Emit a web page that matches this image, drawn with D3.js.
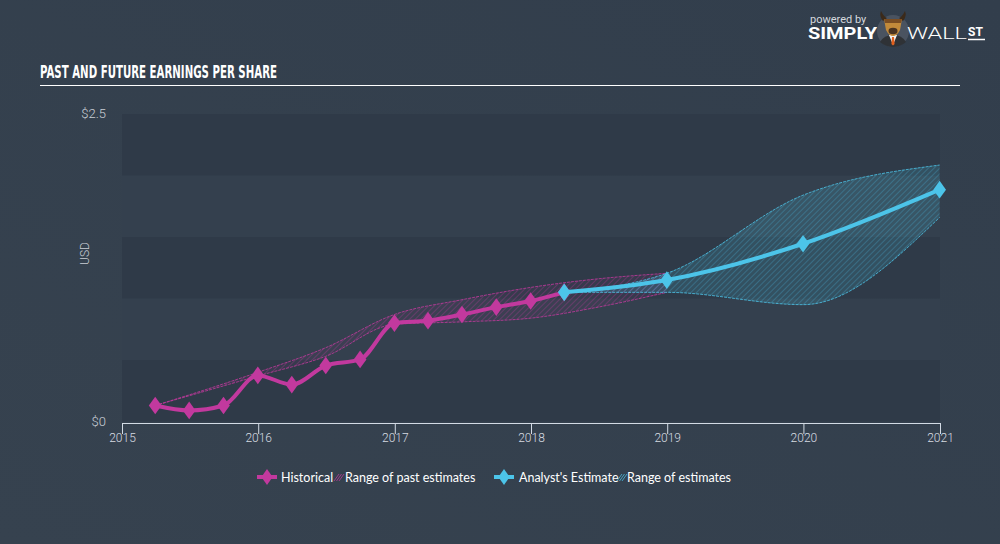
<!DOCTYPE html>
<html>
<head>
<meta charset="utf-8">
<script src="https://cdn.jsdelivr.net/npm/d3@7"></script>
<style>
  html, body { margin: 0; padding: 0; background: #34404e; }
  svg { display: block; }
</style>
</head>
<body>
<div id="chart"></div>
<script>
// ---- data ----
const histDates = ["2015-03-31", "2015-06-30", "2015-09-30", "2015-12-31", "2016-03-31", "2016-06-30",
    "2016-09-30", "2016-12-31", "2017-03-31", "2017-06-30", "2017-09-30", "2017-12-31", "2018-03-31"];
const histEps = [0.13, 0.09, 0.13, 0.375, 0.30, 0.455, 0.505, 0.80, 0.82, 0.87, 0.93, 0.98, 1.05];

const pastRangeDates = ["2015-03-31", "2015-12-31", "2016-06-30", "2016-12-31", "2017-06-30",
    "2017-12-31", "2018-06-30", "2018-12-31"];
const pastHigh = [0.13, 0.40, 0.60, 0.87, 0.99, 1.09, 1.16, 1.205];
const pastLow = [0.13, 0.37, 0.53, 0.79, 0.81, 0.84, 0.93, 1.05];

const estDates = ["2018-03-31", "2018-12-31", "2019-12-31", "2020-12-31"];
const estEps = [1.05, 1.15, 1.445, 1.885];
const estHigh = [1.05, 1.205, 1.84, 2.085];
const estLow = [1.05, 1.05, 0.95, 1.66];

const xTicks = ["2015", "2016", "2017", "2018", "2019", "2020", "2021"];
const yTicks = [0, 2.5];
const yBands = [0, 0.5, 1, 1.5, 2];

const pink = "#c2399e";
const cyan = "#4cc4e9";

const W = 1000, H = 544;
const margin = {top: 114, right: 60, bottom: 123, left: 122};
const width = W - margin.left - margin.right;
const height = H - margin.top - margin.bottom;

const parse = d3.timeParse("%Y-%m-%d");

const svg = d3.select("#chart").append("svg")
    .attr("width", W)
    .attr("height", H);

const defs = svg.append("defs");

// background gradient (very slight)
const bg = defs.append("linearGradient").attr("id", "bg")
    .attr("x1", "0").attr("y1", "1").attr("x2", "1").attr("y2", "0");
bg.append("stop").attr("offset", "0%").attr("stop-color", "#36424f");
bg.append("stop").attr("offset", "100%").attr("stop-color", "#323e4c");

svg.append("rect").attr("width", W).attr("height", H).attr("fill", "url(#bg)");

// hatch patterns
function hatch(id, bgFill, lineColor, lineOpacity) {
    const p = defs.append("pattern").attr("id", id)
        .attr("patternUnits", "userSpaceOnUse")
        .attr("width", 4).attr("height", 4)
        .attr("patternTransform", "rotate(45)");
    p.append("rect").attr("width", 4).attr("height", 4).attr("fill", bgFill);
    p.append("line").attr("x1", 0).attr("y1", 0).attr("x2", 0).attr("y2", 4)
        .attr("stroke", lineColor).attr("stroke-width", 1).attr("stroke-opacity", lineOpacity);
}
hatch("hatchPink", "rgba(194,57,158,0.06)", pink, 0.6);
hatch("hatchCyan", "rgba(76,196,233,0.16)", cyan, 0.5);

// title
svg.append("text")
    .attr("x", 40).attr("y", 78)
    .attr("fill", "#ffffff")
    .attr("font-family", "'Liberation Sans Narrow', 'DejaVu Sans Condensed', sans-serif")
    .attr("font-weight", "bold")
    .attr("font-size", 17)
    .attr("textLength", 237)
    .attr("lengthAdjust", "spacingAndGlyphs")
    .text("PAST AND FUTURE EARNINGS PER SHARE");
svg.append("line")
    .attr("x1", 40).attr("x2", 960).attr("y1", 85.5).attr("y2", 85.5)
    .attr("stroke", "#ffffff").attr("stroke-width", 1);

// logo
const logo = svg.append("g").attr("font-family", "Roboto, 'Open Sans', sans-serif");
logo.append("text").attr("x", 810).attr("y", 23).attr("fill", "#d5d9de")
    .attr("font-size", 11).text("powered by");
logo.append("text").attr("x", 808).attr("y", 39).attr("fill", "#ffffff")
    .attr("font-size", 16).attr("font-weight", "bold").attr("textLength", 69)
    .attr("lengthAdjust", "spacingAndGlyphs").text("SIMPLY");
logo.append("circle").attr("cx", 893).attr("cy", 31).attr("r", 16).attr("fill", "#4a5360");
// suit
logo.append("path").attr("d", "M880,42 Q884,35 893,35 Q902,35 906,42 Q900,47 893,47 Q886,47 880,42 Z")
    .attr("fill", "#2f3236");
logo.append("path").attr("d", "M889,35 L893,45 L897,35 Z").attr("fill", "#f2f2f2");
logo.append("path").attr("d", "M892,37 L894,37 L894.6,44 L893,45.5 L891.4,44 Z").attr("fill", "#e3611e");
// horns
logo.append("path").attr("d", "M883,21 Q879,16 881,11 Q884,17 887,18 Z").attr("fill", "#3b2a1a");
logo.append("path").attr("d", "M903,21 Q907,16 905,11 Q902,17 899,18 Z").attr("fill", "#3b2a1a");
// head
logo.append("path").attr("d", "M884,19 L902,19 L900,30 Q897,36 893,36 Q889,36 886,30 Z").attr("fill", "#c28a3a");
logo.append("path").attr("d", "M884,19 L902,19 L901,23 L885,23 Z").attr("fill", "#7a4d22");
logo.append("ellipse").attr("cx", 893).attr("cy", 31).attr("rx", 4.5).attr("ry", 3.2).attr("fill", "#4a3320");
logo.append("text").attr("x", 907).attr("y", 39).attr("fill", "#ffffff")
    .attr("font-size", 16).attr("font-weight", 300).attr("textLength", 60)
    .attr("lengthAdjust", "spacingAndGlyphs").text("WALL");
logo.append("text").attr("x", 968).attr("y", 36).attr("fill", "#ffffff")
    .attr("font-size", 12).attr("font-weight", "bold").text("ST");
logo.append("line").attr("x1", 968).attr("x2", 985).attr("y1", 39.5).attr("y2", 39.5)
    .attr("stroke", "#ffffff").attr("stroke-width", 1.5);

const g = svg.append("g").attr("transform", `translate(${margin.left},${margin.top})`);

const x = d3.scaleTime()
    .domain([parse("2015-01-01"), parse("2021-01-01")])
    .range([0, width]);
const y = d3.scaleLinear()
    .domain([0, 2.5])
    .range([height + 0.5, 0]);

// alternating bands
g.selectAll(".band").data(yBands).enter().append("rect")
    .attr("class", "band")
    .attr("x", 0)
    .attr("width", width)
    .attr("y", d => y(d + 0.5))
    .attr("height", d => y(d) - y(d + 0.5))
    .attr("fill", (d, i) => i % 2 === 0 ? "#2f3a48" : "#34404e");

// y labels
g.selectAll(".ylab").data(yTicks).enter().append("text")
    .attr("x", -16)
    .attr("y", d => y(d) + 4)
    .attr("text-anchor", "end")
    .attr("fill", "#c9ced5")
    .attr("font-family", "Roboto, sans-serif")
    .attr("font-weight", 300)
    .attr("font-size", 13)
    .text(d => "$" + d);

g.append("text")
    .attr("transform", `translate(-33,${height / 2 - 14}) rotate(-90)`)
    .attr("text-anchor", "middle")
    .attr("fill", "#c9ced5")
    .attr("font-family", "Roboto, sans-serif")
    .attr("font-weight", 300)
    .attr("font-size", 12)
    .text("USD");

// x axis
const xAxis = g.append("g")
    .attr("transform", `translate(0,${height + 2})`)
    .call(d3.axisBottom(x)
        .tickValues(xTicks.map(t => parse(t + "-01-01")))
        .tickFormat(d3.timeFormat("%Y"))
        .tickSize(11)
        .tickPadding(-1)
        .tickSizeOuter(0));
xAxis.select(".domain").attr("stroke", "#d3dbe5").attr("stroke-width", 1.2);
xAxis.selectAll(".tick line").attr("stroke", "#d3dbe5");
xAxis.selectAll(".tick text")
    .attr("fill", "#d7dce2")
    .attr("font-family", "Roboto, sans-serif")
    .attr("font-weight", 300)
    .attr("font-size", 12);

// ranges
const pastRange = pastRangeDates.map((d, i) => ({date: parse(d), hi: pastHigh[i], lo: pastLow[i]}));
const estRange = estDates.map((d, i) => ({date: parse(d), hi: estHigh[i], lo: estLow[i]}));

const area = d3.area()
    .x(d => x(d.date))
    .y0(d => y(d.lo))
    .y1(d => y(d.hi))
    .curve(d3.curveMonotoneX);
const hiLine = d3.line().x(d => x(d.date)).y(d => y(d.hi)).curve(d3.curveMonotoneX);
const loLine = d3.line().x(d => x(d.date)).y(d => y(d.lo)).curve(d3.curveMonotoneX);

function drawRange(data, fillId, color) {
    g.append("path").datum(data).attr("d", area).attr("fill", `url(#${fillId})`);
    [hiLine, loLine].forEach(l => {
        g.append("path").datum(data).attr("d", l)
            .attr("fill", "none").attr("stroke", color)
            .attr("stroke-width", 1).attr("stroke-dasharray", "3,1")
            .attr("stroke-opacity", 0.8);
    });
}
drawRange(pastRange, "hatchPink", pink);
drawRange(estRange, "hatchCyan", cyan);

// lines
const hist = histDates.map((d, i) => ({date: parse(d), v: histEps[i]}));
const est = estDates.map((d, i) => ({date: parse(d), v: estEps[i]}));

const line = d3.line().x(d => x(d.date)).y(d => y(d.v)).curve(d3.curveMonotoneX);

const diamond = d3.symbol().type(d3.symbolDiamond).size(90);

function drawSeries(data, color) {
    g.append("path").datum(data).attr("d", line)
        .attr("fill", "none").attr("stroke", color)
        .attr("stroke-width", 4).attr("stroke-linejoin", "round");
    g.selectAll(null).data(data).enter().append("path")
        .attr("d", diamond)
        .attr("transform", d => `translate(${x(d.date)},${y(d.v)}) scale(1.25,1)`)
        .attr("fill", color);
}
drawSeries(hist, pink);
drawSeries(est, cyan);

// legend
const leg = svg.append("g")
    .attr("font-family", "Lato, 'Open Sans', sans-serif")
    .attr("font-size", 12.5)
    .attr("fill", "#ffffff");

function legMarker(cx, color) {
    leg.append("line").attr("x1", cx - 10).attr("x2", cx + 10).attr("y1", 477).attr("y2", 477)
        .attr("stroke", color).attr("stroke-width", 4);
    leg.append("path").attr("d", diamond)
        .attr("transform", `translate(${cx},477) scale(1.1,0.9)`).attr("fill", color);
}
function legHatch(x0, color) {
    for (let k = 0; k < 3; k++) {
        leg.append("line")
            .attr("x1", x0 + k * 2.5).attr("y1", 481)
            .attr("x2", x0 + k * 2.5 + 5).attr("y2", 474)
            .attr("stroke", color).attr("stroke-width", 1).attr("stroke-opacity", 0.75);
    }
}
legMarker(267, pink);
leg.append("text").attr("x", 281).attr("y", 481.5).text("Historical");
legHatch(334, pink);
leg.append("text").attr("x", 345).attr("y", 481.5).text("Range of past estimates");
legMarker(504, cyan);
leg.append("text").attr("x", 519).attr("y", 481.5).text("Analyst's Estimate");
legHatch(617, cyan);
leg.append("text").attr("x", 627).attr("y", 481.5).text("Range of estimates");
</script>
</body>
</html>
